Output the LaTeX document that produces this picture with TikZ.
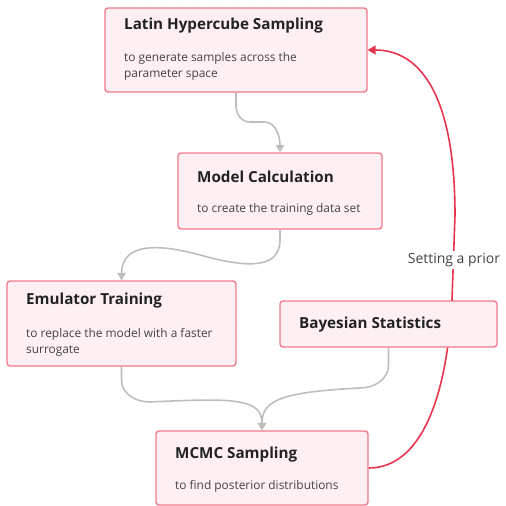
\documentclass[tikz,border=0pt]{standalone}
\usepackage{fontspec}
\setmainfont{Open Sans}
\usetikzlibrary{arrows.meta,backgrounds}
\definecolor{boxfill}{HTML}{FDEFF2}
\definecolor{boxline}{HTML}{EF7B8B}
\definecolor{priorred}{HTML}{E8344E}
\definecolor{flowgray}{HTML}{BEBEBE}
\definecolor{titletext}{HTML}{222222}
\definecolor{notetext}{HTML}{444444}
\tikzset{
    box/.style={draw=boxline, fill=boxfill, line width=1.4pt, rounded corners=3pt, inner sep=0pt},
    title/.style={anchor=west, inner sep=0pt, text=titletext, font=\fontsize{15.2}{18}\selectfont\bfseries},
    note/.style={anchor=west, inner sep=0pt, text=notetext, font=\fontsize{11.9}{16.5}\selectfont, align=left},
    flow/.style={flowgray, line width=1.6pt, -{Triangle[width=8.5pt,length=7.5pt]}},
    prior/.style={priorred, line width=1.6pt, -{Triangle[width=9pt,length=8pt]}}
}
\begin{document}
\begin{tikzpicture}[x=1pt, y=-1pt]
    \useasboundingbox (0,0) rectangle (506,506);

    % Latin Hypercube Sampling
    \node[box, minimum width=262, minimum height=84] (lhs) at (236,50) {};
    \node[title] (lhs-t) at (124,26) {Latin Hypercube Sampling};
    \node[note, anchor=north west] (lhs-n) at (124,52) {to generate samples across the\\parameter space};

    % Model Calculation
    \node[box, minimum width=204, minimum height=76] (model) at (280,191) {};
    \node[title] (model-t) at (197,177) {Model Calculation};
    \node[note] (model-n) at (197,209) {to create the training data set};

    % Emulator Training
    \node[box, minimum width=229, minimum height=85] (emu) at (121.5,323.5) {};
    \node[title] (emu-t) at (26,301) {Emulator Training};
    \node[note, anchor=north west] (emu-n) at (26,328) {to replace the model with a faster\\surrogate};

    % Bayesian Statistics
    \node[box, minimum width=217, minimum height=46] (bayes) at (388.5,324) {};
    \node[title] (bayes-t) at (299,325) {Bayesian Statistics};

    % MCMC Sampling
    \node[box, minimum width=212, minimum height=74] (mcmc) at (262,468) {};
    \node[title] (mcmc-t) at (175,455) {MCMC Sampling};
    \node[note] (mcmc-n) at (175,486) {to find posterior distributions};

    % label on the red loop
    \node[fill=white, inner sep=2pt, text=notetext, font=\fontsize{14}{16}\selectfont] (prior-l) at (454,260) {Setting a prior};

    \begin{scope}[on background layer]
        % dot grid
        \foreach \i in {0,...,35}
            \foreach \j in {0,...,35}
                \fill[black!7] (4+14.6*\i,4+14.6*\j) circle (0.6);

        % grey flow
        \draw[flow] (lhs.south) -- (236,106) to[out=-90,in=180] (250,122) -- (264,122) to[out=0,in=90] (model.north);
        \draw[flow] (model.south) -- (280,240) .. controls (280,272) and (240,266) .. (200,255) .. controls (160,244) and (122,242) .. (emu.north);
        \draw[flow] (emu.south) -- (121.5,380) to[out=-90,in=180] (150,402) .. controls (232,398) and (262,398) .. (mcmc.north);
        \draw[flow] (bayes.south) -- (388.5,365) to[out=-90,in=0] (360,388) .. controls (282,392) and (262,400) .. (mcmc.north);

        % red prior loop
        \draw[prior] (mcmc.east) .. controls (420,468) and (447,400) .. (452,300) -- (455,215) .. controls (455,95) and (420,50) .. (lhs.east);
    \end{scope}
\end{tikzpicture}
\end{document}
